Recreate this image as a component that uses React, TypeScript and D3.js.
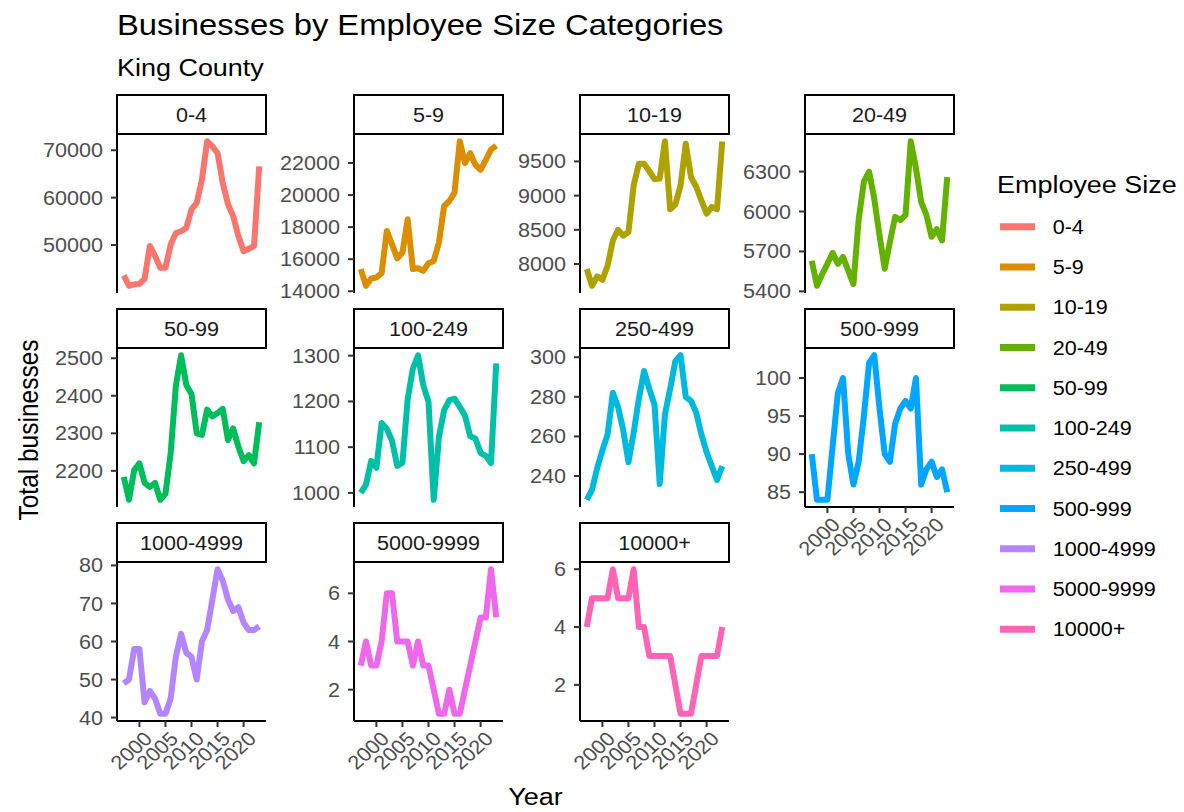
import React from 'react';
import * as d3 from 'd3';

const TITLE = 'Businesses by Employee Size Categories';
const SUBTITLE = 'King County';
const X_TITLE = 'Year';
const Y_TITLE = 'Total businesses';
const LEGEND_TITLE = 'Employee Size';

const years = [1997, 1998, 1999, 2000, 2001, 2002, 2003, 2004, 2005, 2006, 2007, 2008, 2009, 2010, 2011, 2012, 2013, 2014, 2015, 2016, 2017, 2018, 2019, 2020, 2021, 2022, 2023];

const categories = ['0-4', '5-9', '10-19', '20-49', '50-99', '100-249', '250-499', '500-999', '1000-4999', '5000-9999', '10000+'];

const colors = ['#F8766D', '#DB8E00', '#AEA200', '#64B200', '#00BD5C', '#00C1A7', '#00BADE', '#00A6FF', '#B385FF', '#EF67EB', '#FF63B6'];

const v0_4 = [43600, 41400, 41700, 41800, 42900, 49800, 47700, 45200, 45200, 50100, 52500, 52900, 53600, 57500, 58900, 63800, 71900, 70800, 69400, 63100, 58600, 56100, 51900, 48700, 49200, 49800, 66600];
const v5_9 = [15380, 14340, 14800, 14860, 15130, 17760, 16930, 16040, 16410, 18490, 15380, 15430, 15270, 15750, 15890, 17040, 19320, 19630, 20150, 23360, 22000, 22620, 21890, 21580, 22200, 22830, 23080];
const v10_19 = [7927, 7682, 7820, 7770, 7975, 8340, 8500, 8415, 8465, 9150, 9465, 9465, 9355, 9240, 9250, 9795, 8800, 8870, 9150, 9760, 9270, 9130, 8930, 8735, 8835, 8800, 9790];
const v20_49 = [5630, 5442, 5530, 5607, 5690, 5607, 5658, 5556, 5455, 5940, 6224, 6300, 6093, 5821, 5570, 5771, 5960, 5935, 5975, 6528, 6325, 6071, 5975, 5810, 5867, 5783, 6260];
const v50_99 = [2184, 2123, 2202, 2220, 2168, 2157, 2168, 2123, 2139, 2247, 2427, 2508, 2429, 2405, 2300, 2296, 2363, 2345, 2354, 2365, 2282, 2313, 2264, 2226, 2242, 2220, 2330];
const v100_249 = [1000, 1018, 1070, 1055, 1153, 1140, 1114, 1059, 1066, 1205, 1272, 1301, 1235, 1199, 985, 1122, 1181, 1203, 1206, 1188, 1169, 1124, 1119, 1087, 1081, 1065, 1283];
const v250_499 = [228, 233, 244, 253, 261, 282, 275, 263, 247, 262, 279, 293, 284, 276, 236, 271, 284, 298, 301, 280, 278, 272, 261, 252, 245, 238, 245];
const v500_999 = [90, 84, 84, 84, 91, 98, 100, 90, 86, 89, 95, 102, 103, 96, 90, 89, 94, 96, 97, 96, 100, 86, 88, 89, 87, 88, 85];
const v1000_4999 = [49, 50, 58, 58, 44, 47, 45, 41, 41, 45, 56, 62, 57, 56, 50, 60, 63, 71, 79, 76, 71, 68, 69, 65, 63, 63, 64];
const v5000_9999 = [3, 4, 3, 3, 4, 6, 6, 4, 4, 4, 3, 4, 3, 3, 2, 1, 1, 2, 1, 1, 2, 3, 4, 5, 5, 7, 5];
const v10000 = [4, 5, 5, 5, 5, 6, 5, 5, 5, 6, 4, 4, 3, 3, 3, 3, 3, 2, 1, 1, 1, 2, 3, 3, 3, 3, 4];

const seriesValues = [v0_4, v5_9, v10_19, v20_49, v50_99, v100_249, v250_499, v500_999, v1000_4999, v5000_9999, v10000];

const yTickValues = [
  [50000, 60000, 70000],
  [14000, 16000, 18000, 20000, 22000],
  [8000, 8500, 9000, 9500],
  [5400, 5700, 6000, 6300],
  [2200, 2300, 2400, 2500],
  [1000, 1100, 1200, 1300],
  [240, 260, 280, 300],
  [85, 90, 95, 100],
  [40, 50, 60, 70, 80],
  [2, 4, 6],
  [2, 4, 6],
];

const xTickValues = [2000, 2005, 2010, 2015, 2020];

const FONT = '"Liberation Sans", Arial, Helvetica, sans-serif';
const SX = 1.1;

type TProps = {
  x: number; y: number; size: number; anchor?: string; rotate?: number;
  fill?: string; dy?: string; children: React.ReactNode;
};

function T({ x, y, size, anchor = 'start', rotate, fill = '#000', dy, children }: TProps) {
  const tr = `translate(${x},${y}) scale(${SX},1)${rotate !== undefined ? ` rotate(${rotate})` : ''}`;
  return (
    <text transform={tr} fontSize={size} textAnchor={anchor} fill={fill} dy={dy} fontFamily={FONT}>
      {children}
    </text>
  );
}

export default function App() {
  const W = 1184;
  const H = 812;
  const colX = [117, 354, 580, 805];
  const stripTops = [95, 309, 523];
  const panelW = 149;
  const stripH = 39;
  const panelH = 159;
  const tickLen = 6;
  const tickFs = 19.6;

  const panels = categories.map((cat, k) => {
    const col = k % 4;
    const row = Math.floor(k / 4);
    const px = colX[col];
    const sTop = stripTops[row];
    const pTop = sTop + stripH;
    const pBot = pTop + panelH;
    const vals = seriesValues[k];
    const [ymin, ymax] = d3.extent(vals) as [number, number];
    const yr = ymax - ymin;
    const y = d3.scaleLinear().domain([ymin - 0.05 * yr, ymax + 0.05 * yr]).range([pBot, pTop]);
    const [x0, x1] = d3.extent(years) as [number, number];
    const xr = x1 - x0;
    const x = d3.scaleLinear().domain([x0 - 0.05 * xr, x1 + 0.05 * xr]).range([px, px + panelW]);
    const line = d3.line<number>().x((_, i) => x(years[i])).y((d) => y(d)).curve(d3.curveLinear);
    const showX = row === 2 || (row === 1 && col === 3);

    return (
      <g key={cat}>
        {/* strip */}
        <rect x={px} y={sTop} width={panelW} height={stripH} fill="#fff" stroke="#000" strokeWidth={2} />
        <T x={px + panelW / 2} y={sTop + stripH / 2} size={tickFs} anchor="middle" dy="0.36em" fill="#1A1A1A">{cat}</T>
        {/* line */}
        <path d={line(vals) || ''} fill="none" stroke={colors[k]} strokeWidth={6} strokeLinejoin="round" strokeLinecap="butt" />
        {/* y axis */}
        <line x1={px} x2={px} y1={pTop} y2={pBot} stroke="#000" strokeWidth={2} />
        {yTickValues[k].map((t) => (
          <g key={t}>
            <line x1={px - tickLen} x2={px} y1={y(t)} y2={y(t)} stroke="#333" strokeWidth={2} />
            <T x={px - tickLen - 8} y={y(t)} size={tickFs} anchor="end" dy="0.36em" fill="#4D4D4D">{t}</T>
          </g>
        ))}
        {/* x axis */}
        {showX && (
          <g>
            <line x1={px} x2={px + panelW} y1={pBot} y2={pBot} stroke="#000" strokeWidth={2} />
            {xTickValues.map((t) => (
              <g key={t}>
                <line x1={x(t)} x2={x(t)} y1={pBot} y2={pBot + tickLen} stroke="#333" strokeWidth={2} />
                <T x={x(t) + 3} y={pBot + tickLen + 3} size={tickFs} anchor="end" rotate={-45} dy="0.72em" fill="#4D4D4D">{t}</T>
              </g>
            ))}
          </g>
        )}
      </g>
    );
  });

  const legendX = 1000;
  const legendY0 = 226.7;
  const legendStep = 40.26;

  return (
    <svg width={W} height={H} style={{ position: 'absolute', left: 0, top: 0, display: 'block', background: '#fff' }}>
      <rect x={0} y={0} width={W} height={H} fill="#fff" />
      <T x={117} y={35} size={29.8}>{TITLE}</T>
      <T x={117} y={76} size={24.5}>{SUBTITLE}</T>
      {panels}
      <T x={535.5} y={805} size={24.5} anchor="middle">{X_TITLE}</T>
      <T x={37.5} y={430} size={24.5} anchor="middle" rotate={-90}>{Y_TITLE}</T>
      <T x={997} y={193} size={24.5}>{LEGEND_TITLE}</T>
      {categories.map((cat, k) => (
        <g key={cat}>
          <line x1={legendX} x2={legendX + 35} y1={legendY0 + k * legendStep} y2={legendY0 + k * legendStep} stroke={colors[k]} strokeWidth={7} />
          <T x={1052.7} y={legendY0 + k * legendStep} size={19.6} dy="0.36em">{cat}</T>
        </g>
      ))}
    </svg>
  );
}
